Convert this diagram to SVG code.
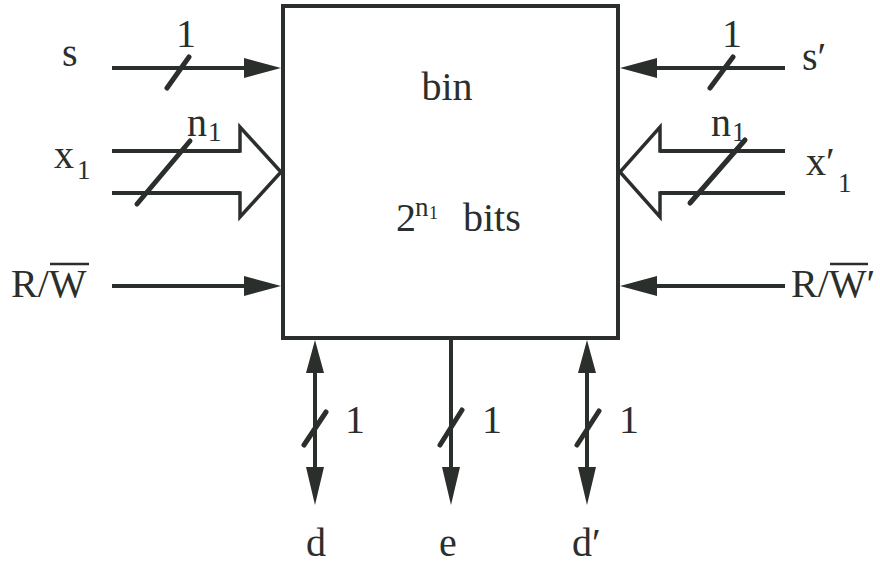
<svg xmlns="http://www.w3.org/2000/svg" width="880" height="565" viewBox="0 0 880 565">
<style>
  .lbl { font-size: 40px; }
  .sub { font-size: 27px; }
  .w { stroke: #2b2f2c; stroke-width: 4; fill: none; }
  .sl { stroke: #2b2f2c; stroke-width: 5; stroke-linecap: round; fill: none; }
  .hollow { stroke: #2b2f2c; stroke-width: 3.5; fill: #fff; stroke-linejoin: miter; }
  .ah { fill: #2b2f2c; }
</style>
<rect width="880" height="565" fill="#fff"/>

<g id="bin">
  <rect x="283" y="6" width="335" height="332" fill="#fff" stroke="#2b2f2c" stroke-width="4"/>
  <g style="font-family:'DejaVu Serif','Liberation Serif',serif" fill="#2b2f2c">
    <text class="lbl" x="447" y="100" text-anchor="middle" style="font-family:'Liberation Serif',serif">bin</text>
    <text class="lbl" x="396" y="231" style="font-family:'Liberation Serif',serif">2</text>
    <text class="sub" x="415" y="216" style="font-family:'Liberation Serif',serif">n</text>
    <text font-size="18" x="429" y="219" style="font-family:'Liberation Serif',serif">1</text>
    <text class="lbl" x="463" y="231" style="font-family:'Liberation Serif',serif">bits</text>
  </g>
</g>

<g id="connectors">
  <line class="w" x1="112" y1="68" x2="246" y2="68"/>
  <polygon class="ah" points="244,58 281,68 244,78"/>
  <line class="sl" x1="167" y1="88" x2="189" y2="57"/>
  <path class="hollow" d="M112,151 H240 V127 L281,172 L240,217 V193 H112"/>
  <line class="w" x1="112" y1="151" x2="240" y2="151"/>
  <line class="w" x1="112" y1="193" x2="240" y2="193"/>
  <line class="sl" x1="137" y1="204" x2="190" y2="141"/>
  <line class="w" x1="112" y1="286" x2="246" y2="286"/>
  <polygon class="ah" points="244,276 281,286 244,296"/>
  <line class="w" x1="785" y1="68" x2="655" y2="68"/>
  <polygon class="ah" points="657,58 620,68 657,78"/>
  <line class="sl" x1="710" y1="88" x2="733" y2="57"/>
  <path class="hollow" d="M785,151 H660 V127 L620,172 L660,217 V193 H785"/>
  <line class="w" x1="785" y1="151" x2="660" y2="151"/>
  <line class="w" x1="785" y1="193" x2="660" y2="193"/>
  <line class="sl" x1="690" y1="203" x2="745" y2="140"/>
  <line class="w" x1="785" y1="286" x2="655" y2="286"/>
  <polygon class="ah" points="657,276 620,286 657,296"/>
  <line class="w" x1="315" y1="370" x2="315" y2="470"/>
  <polygon class="ah" points="306,373 315,340 324,373"/>
  <polygon class="ah" points="306,467 315,505 324,467"/>
  <line class="sl" x1="304" y1="445" x2="326" y2="412"/>
  <line class="w" x1="451" y1="340" x2="451" y2="470"/>
  <polygon class="ah" points="442,467 451,505 460,467"/>
  <line class="sl" x1="440" y1="445" x2="462" y2="410"/>
  <line class="w" x1="587" y1="370" x2="587" y2="470"/>
  <polygon class="ah" points="578,373 587,340 596,373"/>
  <polygon class="ah" points="578,467 587,505 596,467"/>
  <line class="sl" x1="577" y1="445" x2="599" y2="411"/>
</g>

<g id="labels" style="font-family:'Liberation Serif','DejaVu Serif',serif" fill="#2b2f2c">
  <g id="lbl-s"><text class="lbl" x="62" y="66">s</text></g>
  <g id="lbl-s-width"><text class="lbl" x="186" y="47" text-anchor="middle">1</text></g>
  <g id="lbl-x1"><text class="lbl" x="54" y="168">x</text><text class="sub" x="77" y="179">1</text></g>
  <g id="lbl-x1-width"><text class="lbl" x="187" y="136">n</text><text class="sub" x="208" y="141">1</text></g>
  <g id="lbl-rw">
    <text class="lbl" x="11" y="297">R/W</text>
    <line x1="50" y1="264" x2="89" y2="264" stroke="#2b2f2c" stroke-width="2.5"/>
  </g>
  <g id="lbl-s2"><text class="lbl" x="802" y="70">s′</text></g>
  <g id="lbl-s2-width"><text class="lbl" x="732" y="47" text-anchor="middle">1</text></g>
  <g id="lbl-x2"><text class="lbl" x="806" y="175">x′</text><text class="sub" x="838" y="192">1</text></g>
  <g id="lbl-x2-width"><text class="lbl" x="711" y="136">n</text><text class="sub" x="732" y="141">1</text></g>
  <g id="lbl-rw2">
    <text class="lbl" x="791" y="297">R/W′</text>
    <line x1="830" y1="264" x2="868" y2="264" stroke="#2b2f2c" stroke-width="2.5"/>
  </g>
  <g id="lbl-d"><text class="lbl" x="316" y="556" text-anchor="middle">d</text><text class="lbl" x="355" y="433" text-anchor="middle">1</text></g>
  <g id="lbl-e"><text class="lbl" x="448" y="556" text-anchor="middle">e</text><text class="lbl" x="492" y="433" text-anchor="middle">1</text></g>
  <g id="lbl-d2"><text class="lbl" x="572" y="556">d′</text><text class="lbl" x="629" y="433" text-anchor="middle">1</text></g>
</g>
</svg>
